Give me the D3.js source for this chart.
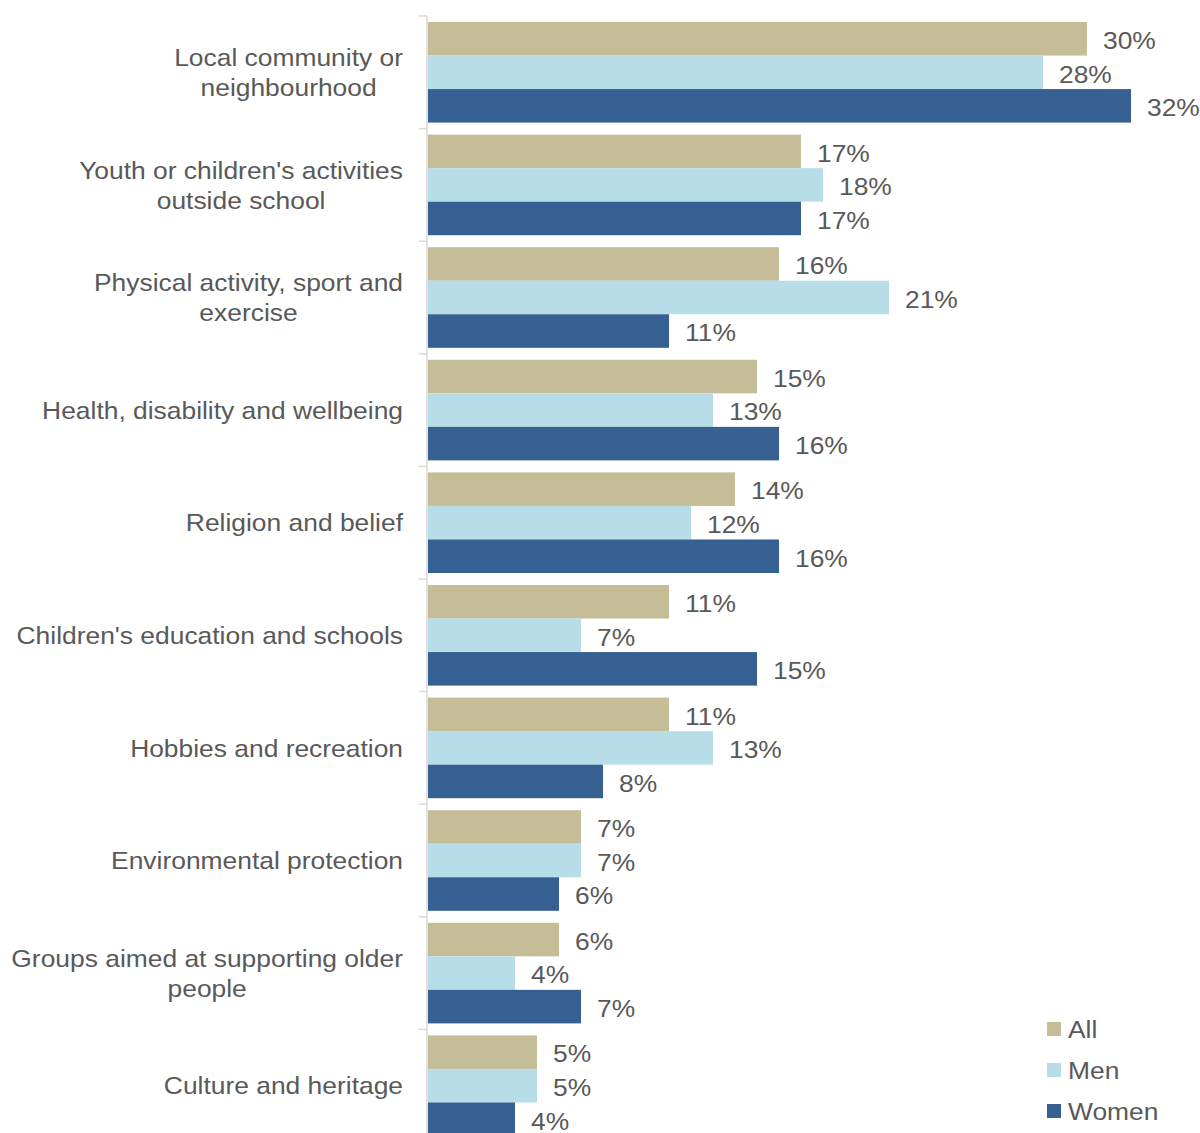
<!DOCTYPE html>
<html>
<head>
<meta charset="utf-8">
<script src="https://cdn.jsdelivr.net/npm/d3@7"></script>
<style>
  html, body { margin: 0; padding: 0; background: #fff; }
  svg { display: block; font-family: "Liberation Sans", Arial, sans-serif; }
</style>
</head>
<body>
<svg id="chart" width="1200" height="1133"></svg>
<script>
// Areas of volunteering, share by group
const categories = [
  ["Local community or", "neighbourhood"],
  ["Youth or children's activities", "outside school"],
  ["Physical activity, sport and", "exercise"],
  ["Health, disability and wellbeing"],
  ["Religion and belief"],
  ["Children's education and schools"],
  ["Hobbies and recreation"],
  ["Environmental protection"],
  ["Groups aimed at supporting older", "people"],
  ["Culture and heritage"]
];
const seriesNames = ["All", "Men", "Women"];
const allValues   = [30, 17, 16, 15, 14, 11, 11, 7, 6, 5];
const menValues   = [28, 18, 21, 13, 12, 7, 13, 7, 4, 5];
const womenValues = [32, 17, 11, 16, 16, 15, 8, 6, 7, 4];
const seriesColors = ["#C4BD97", "#B7DEE8", "#366092"];

const series = [allValues, menValues, womenValues];
const keys = categories.map((c, i) => i);

const svg = d3.select("#chart");
const x0 = 427, plotTop = 16, plotBottom = 1142;
const textColor = "#595959";
const fontSize = 24;
const stretch = 1.1; // wide letterforms

const y = d3.scaleBand().domain(keys).range([plotTop, plotBottom]).paddingInner(0).paddingOuter(0);
const yInner = d3.scaleBand().domain(seriesNames).range([6, y.bandwidth() - 6]);
const x = d3.scaleLinear().domain([0, 32]).range([x0, x0 + 704]);

// place a text at (px, py), vertically centred, widened horizontally
function label(sel, px, py, str, anchor, dy) {
  return sel.append("text")
    .attr("transform", `translate(${px},${py}) scale(${stretch},1)`)
    .attr("dy", dy || "0.36em")
    .attr("text-anchor", anchor || "start")
    .attr("font-size", fontSize)
    .attr("fill", textColor)
    .text(str);
}

// bars and value labels
const barLayer = svg.append("g");
keys.forEach(k => {
  seriesNames.forEach((name, si) => {
    const v = series[si][k];
    const by = y(k) + yInner(name);
    barLayer.append("rect")
      .attr("x", x(0) + 1)
      .attr("y", by)
      .attr("width", x(v) - x(0) - 1)
      .attr("height", yInner.bandwidth())
      .attr("fill", seriesColors[si]);
    label(barLayer, x(v) + 16, by + yInner.bandwidth() / 2, v + "%", "start", "0.43em");
  });
});

// category axis with boundary ticks
const axisG = svg.append("g");
axisG.append("line")
  .attr("x1", x0).attr("x2", x0).attr("y1", plotTop).attr("y2", plotBottom)
  .attr("stroke", "#D9D9D9").attr("stroke-width", 1.5);
const boundaries = keys.map(k => y(k)).concat([plotBottom]);
axisG.selectAll(".tick").data(boundaries).join("line")
  .attr("class", "tick")
  .attr("x1", x0 - 8).attr("x2", x0)
  .attr("y1", d => d).attr("y2", d => d)
  .attr("stroke", "#D9D9D9").attr("stroke-width", 1.5);

// category labels: each block centred, its widest line ending at the right edge
const lineH = 30, labelRight = 403;
const catLayer = svg.append("g");
keys.forEach(k => {
  const lines = categories[k];
  const cy = y(k) + y.bandwidth() / 2;
  const start = cy - (lines.length - 1) * lineH / 2;
  const nodes = lines.map((l, i) => label(catLayer, 0, start + i * lineH, l, "middle"));
  const maxW = d3.max(nodes, n => n.node().getComputedTextLength()) * stretch;
  const cx = labelRight - maxW / 2;
  nodes.forEach((n, i) =>
    n.attr("transform", `translate(${cx},${start + i * lineH}) scale(${stretch},1)`));
});

// legend
const legend = svg.append("g").attr("transform", "translate(1047,1022)");
seriesNames.forEach((name, i) => {
  const g = legend.append("g").attr("transform", `translate(0,${i * 41})`);
  g.append("rect").attr("width", 14).attr("height", 14).attr("fill", seriesColors[i]);
  label(g, 21, 7, name);
});
</script>
</body>
</html>
